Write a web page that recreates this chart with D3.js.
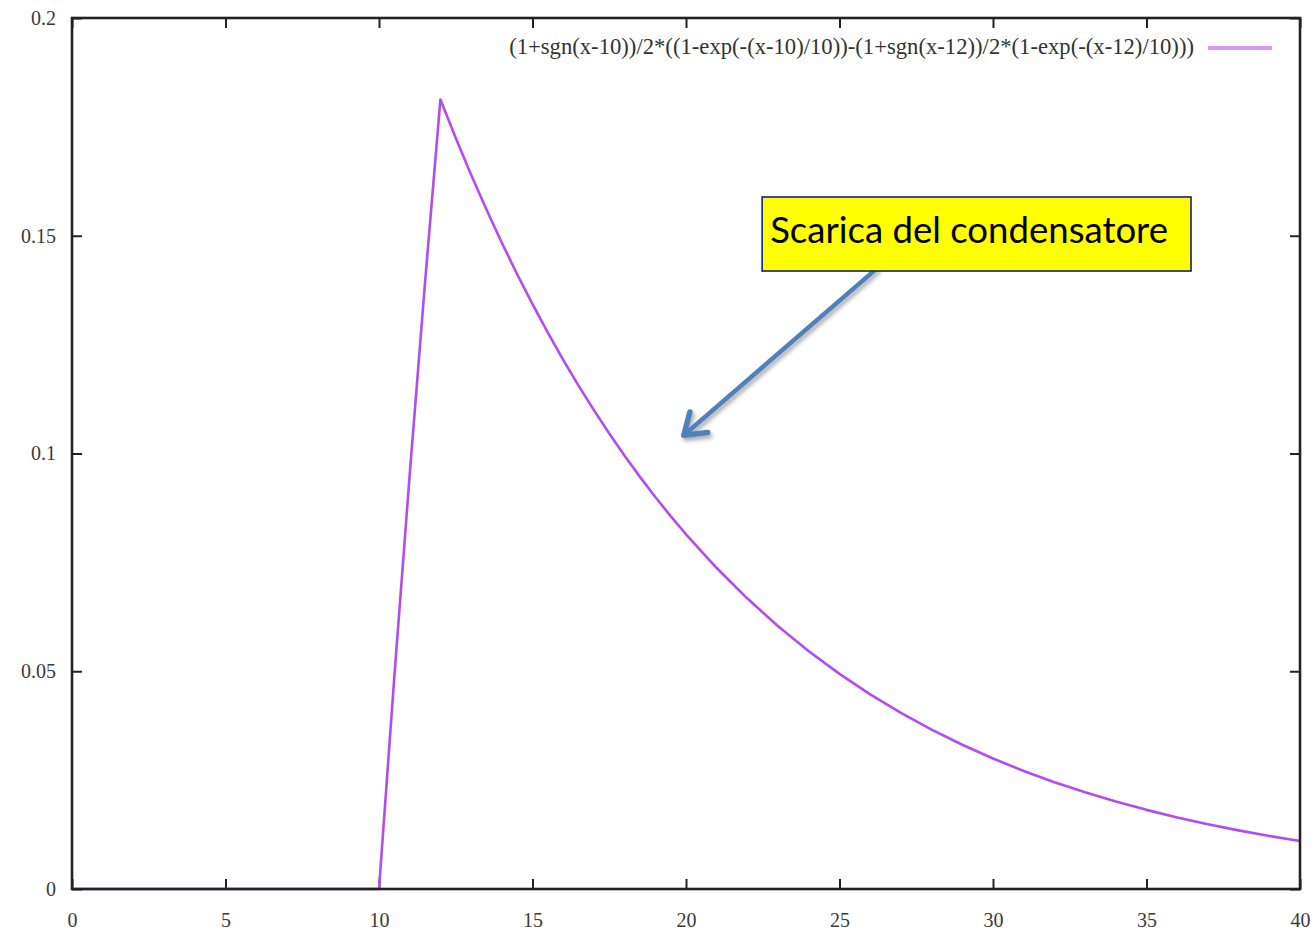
<!DOCTYPE html>
<html>
<head>
<meta charset="utf-8">
<script src="https://cdn.jsdelivr.net/npm/d3@7"></script>
<style>
  html, body { margin: 0; padding: 0; background: #fff; }
  svg { display: block; }
</style>
</head>
<body>
<svg id="chart" width="1314" height="934"></svg>
<script>
// Capacitor charge/discharge pulse: sampled values of the plotted function
const xValues = [0, 10, 10.5, 11, 11.5, 12, 12.5, 13, 13.5, 14, 14.5, 15, 15.5, 16, 16.5, 17, 17.5,
                 18, 18.5, 19, 19.5, 20, 21, 22, 23, 24, 25, 26, 27, 28, 29, 30, 31, 32, 33, 34,
                 35, 36, 37, 38, 39, 40];
const yValues = [0, 0, 0.04877, 0.09516, 0.13929, 0.18127, 0.17243, 0.16402, 0.15602, 0.14841,
                 0.14117, 0.13429, 0.12774, 0.12151, 0.11558, 0.10995, 0.10458, 0.09948, 0.09463,
                 0.09002, 0.08563, 0.08145, 0.07370, 0.06669, 0.06034, 0.05460, 0.04940, 0.04470,
                 0.04045, 0.03660, 0.03312, 0.02996, 0.02711, 0.02453, 0.02220, 0.02009, 0.01817,
                 0.01644, 0.01488, 0.01346, 0.01218, 0.01102];
const xTicks = [0, 5, 10, 15, 20, 25, 30, 35, 40];
const yTicks = [0, 0.05, 0.1, 0.15, 0.2];
const yTickLabels = ["0", "0.05", "0.1", "0.15", "0.2"];
const legendLabel = "(1+sgn(x-10))/2*((1-exp(-(x-10)/10))-(1+sgn(x-12))/2*(1-exp(-(x-12)/10)))";
const calloutText = "Scarica del condensatore";
// callout box corners and arrow, in data units
const calloutBox = { x0: 22.48, x1: 36.45, y0: 0.1589, y1: 0.1419 };
const arrowFrom = [26.2, 0.1424];
const arrowTo = [19.93, 0.1042];

const W = 1314, H = 934;
const margin = { left: 72, top: 18, right: 14, bottom: 45 };
const iw = W - margin.left - margin.right;
const ih = H - margin.top - margin.bottom;

const svg = d3.select("#chart");
const defs = svg.append("defs");
const shadow = defs.append("filter").attr("id", "shadow")
  .attr("x", "-20%").attr("y", "-20%").attr("width", "140%").attr("height", "140%");
shadow.append("feDropShadow").attr("dx", 2).attr("dy", 3).attr("stdDeviation", 2.2)
  .attr("flood-color", "#000").attr("flood-opacity", 0.35);

const g = svg.append("g").attr("transform", `translate(${margin.left},${margin.top})`);

const x = d3.scaleLinear().domain([0, 40]).range([0, iw]);
const y = d3.scaleLinear().domain([0, 0.2]).range([ih, 0]);

const serif = "'Liberation Serif', 'DejaVu Serif', serif";
const tickLen = 10;
const frameColor = "#222";
const tickFont = 20;

// Axes: labels on bottom/left, inward ticks mirrored on all sides
const xAxis = d3.axisBottom(x).tickValues(xTicks).tickSize(-tickLen).tickPadding(24)
  .tickFormat(d3.format("d"));
const yAxis = d3.axisLeft(y).tickValues(yTicks).tickSize(-tickLen).tickPadding(16)
  .tickFormat((d, i) => yTickLabels[i]);
const xTop = d3.axisTop(x).tickValues(xTicks).tickSize(-tickLen).tickFormat("");
const yRight = d3.axisRight(y).tickValues(yTicks).tickSize(-tickLen).tickFormat("");

function styleAxis(sel) {
  sel.select(".domain").remove();
  sel.selectAll(".tick line").attr("stroke", frameColor).attr("stroke-width", 2);
  sel.selectAll(".tick text").attr("fill", "#3a3a3a")
    .style("font-family", serif).style("font-size", tickFont + "px");
}

g.append("g").attr("transform", `translate(0,${ih})`).call(xAxis).call(styleAxis);
g.append("g").call(yAxis).call(styleAxis);
g.append("g").call(xTop).call(styleAxis);
g.append("g").attr("transform", `translate(${iw},0)`).call(yRight).call(styleAxis);

// Curve
const data = xValues.map((v, i) => [v, yValues[i]]);
const curveColor = "#b24cf0";
g.append("path")
  .datum(data)
  .attr("fill", "none")
  .attr("stroke", curveColor)
  .attr("stroke-width", 2.6)
  .attr("stroke-linejoin", "round")
  .attr("d", d3.line().x(d => x(d[0])).y(d => y(d[1])));

// Plot frame
g.append("rect")
  .attr("x", 0).attr("y", 0).attr("width", iw).attr("height", ih)
  .attr("fill", "none").attr("stroke", frameColor).attr("stroke-width", 2.6);

// Key (top right)
const keyY = 30;
const keyLineX1 = iw - 92, keyLineX2 = iw - 28;
g.append("line")
  .attr("x1", keyLineX1).attr("x2", keyLineX2).attr("y1", keyY).attr("y2", keyY)
  .attr("stroke", "#d49af5").attr("stroke-width", 4);
const keyText = g.append("text")
  .attr("x", keyLineX1 - 14).attr("y", keyY + 6)
  .attr("text-anchor", "end")
  .attr("fill", "#333")
  .style("font-family", serif)
  .style("font-size", "17px")
  .text(legendLabel);
// fit key label to its measured span
{
  const target = 685;
  const len = keyText.node().getComputedTextLength();
  keyText.style("font-size", (17 * target / len).toFixed(2) + "px");
}

// Callout arrow
const ax0 = x(arrowFrom[0]), ay0 = y(arrowFrom[1]);
const ax1 = x(arrowTo[0]), ay1 = y(arrowTo[1]);
const ang = Math.atan2(ay1 - ay0, ax1 - ax0);
const headLen = 24, headAng = Math.PI / 5.2;
const arrowColor = "#4f81bd";
const arrowG = g.append("g").attr("filter", "url(#shadow)");
arrowG.append("line")
  .attr("x1", ax0).attr("y1", ay0).attr("x2", ax1).attr("y2", ay1)
  .attr("stroke", arrowColor).attr("stroke-width", 4.5).attr("stroke-linecap", "round");
arrowG.append("polyline")
  .attr("points", [
    [ax1 - headLen * Math.cos(ang - headAng), ay1 - headLen * Math.sin(ang - headAng)],
    [ax1, ay1],
    [ax1 - headLen * Math.cos(ang + headAng), ay1 - headLen * Math.sin(ang + headAng)]
  ].map(p => p.join(",")).join(" "))
  .attr("fill", "none").attr("stroke", arrowColor).attr("stroke-width", 5.5)
  .attr("stroke-linecap", "round").attr("stroke-linejoin", "round");

// Callout box
const bx = x(calloutBox.x0), by = y(calloutBox.y0);
const bw = x(calloutBox.x1) - bx, bh = y(calloutBox.y1) - by;
g.append("rect")
  .attr("x", bx).attr("y", by).attr("width", bw).attr("height", bh)
  .attr("fill", "#ffff00").attr("stroke", "#1c1c8a").attr("stroke-width", 1.6);
const callout = g.append("text")
  .attr("x", bx + 8).attr("y", by + 46)
  .attr("fill", "#000")
  .style("font-family", "Lato, 'Open Sans', sans-serif")
  .style("font-size", "34px")
  .text(calloutText);
{
  const target = 398;
  const len = callout.node().getComputedTextLength();
  callout.style("font-size", (34 * target / len).toFixed(2) + "px");
}
</script>
</body>
</html>
